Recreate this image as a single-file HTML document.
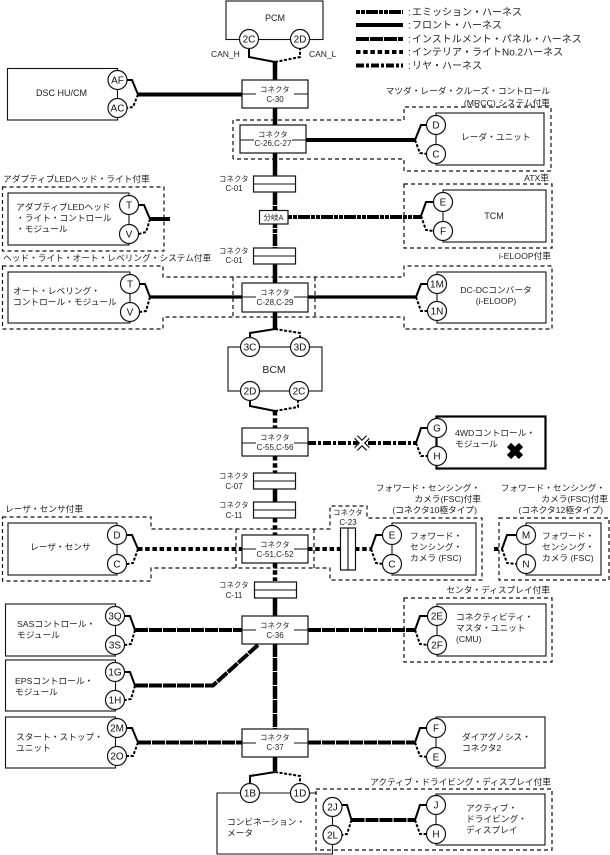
<!DOCTYPE html>
<html><head><meta charset="utf-8"><style>
html,body{margin:0;padding:0;background:#fff}
svg{display:block}
text{font-family:"Liberation Sans","Noto Sans CJK JP",sans-serif;fill:#222;font-size:8.7px}
.lg{font-size:10px}
.m{text-anchor:middle}
.e{text-anchor:end}
.c{text-anchor:middle;font-size:7.2px;letter-spacing:.3px}
.n{text-anchor:middle;font-size:8px}
.p{text-anchor:middle;font-size:10px;fill:#111}
.b{fill:none;stroke:#111;stroke-width:1.1}
.bx{fill:#fff;stroke:#111;stroke-width:1.2}
.d{fill:none;stroke:#111;stroke-width:1.2;stroke-dasharray:4 3}
.f{fill:none;stroke:#000;stroke-width:2}
.fd{fill:none;stroke:#000;stroke-width:2;stroke-dasharray:3 1.6}
.h{fill:none;stroke:#000;stroke-width:4}
.v{fill:none;stroke:#000;stroke-width:4.5}
.ip{stroke-dasharray:13 1}
.in{stroke-dasharray:4.5 2.7}
.em{stroke-dasharray:4 1 4 1 12 1}
.re{stroke-dasharray:8 2 3 2}
circle{fill:#fff;stroke:#111;stroke-width:1.2}
</style></head><body>
<svg width="610" height="855" viewBox="0 0 610 855" xmlns="http://www.w3.org/2000/svg">
<!-- dashed groups -->
<path class="d" d="M233,159V120H404V107H551V171H404V159H233"/>
<path class="d" d="M2.500,187H164V251H2.500Z"/>
<path class="d" d="M404,184H552V248H404Z"/>
<path class="d" d="M233,277V317M315,277V317"/>
<path class="d" d="M2.500,266H163V277H404V266H552V329H404V317H163V329H2.500Z"/>
<path class="d" d="M2.500,517H151V529H330V506H367V518H482V580H330V568H151V581H2.500Z"/>
<path class="d" d="M236,529V568M314,529V568"/>
<path class="d" d="M499,518H609V580H499Z"/>
<path class="d" d="M404,598H552V662H404Z"/>
<path class="d" d="M316,789H552V850H316Z"/>
<!-- module boxes -->
<rect class="b" x="226" y="1" width="97" height="38.500"/>
<rect class="b" x="7.500" y="68.500" width="110" height="51.500"/>
<rect class="b" x="436" y="113" width="108" height="52"/>
<rect class="b" x="8" y="193" width="121" height="52"/>
<rect class="b" x="443" y="190" width="103" height="52"/>
<rect class="b" x="8" y="272" width="122" height="51"/>
<rect class="b" x="437" y="272" width="109" height="51"/>
<rect class="b" x="228" y="347" width="94" height="44"/>
<rect fill="none" stroke="#000" stroke-width="2.200" x="436.500" y="416.500" width="109" height="52"/>
<rect class="b" x="8" y="523" width="109" height="52"/>
<rect class="b" x="392" y="523" width="84" height="52"/>
<rect class="b" x="526" y="523" width="75" height="52"/>
<rect class="b" x="5.500" y="604" width="110" height="52"/>
<rect class="b" x="437" y="604" width="109" height="52" stroke-width="1.400"/>
<rect class="b" x="5.500" y="660" width="110" height="51"/>
<rect class="b" x="5.500" y="717" width="110" height="51"/>
<rect class="b" x="436" y="717" width="109" height="51"/>
<path class="b" d="M317,793H217V854H332.500V807"/>
<rect class="b" x="436" y="794" width="109" height="51"/>
<!-- main vertical -->
<path class="v" d="M275,62V80M275,108V125M275,153V176"/>
<path class="v ip" d="M275,192V211"/>
<path class="v em" d="M275,224V248"/>
<path class="v" d="M275,264V283M275,312V329"/>
<path class="v in" d="M275,411V428M275,456V473"/>
<path class="v" d="M275,489V502"/>
<path class="v in" d="M275,518V535M275,563V581"/>
<path class="v" d="M275,597V616"/>
<path class="v ip" d="M275,644V729"/>
<path class="v" d="M275,757V771"/>
<!-- horizontal harnesses -->
<path class="h" d="M138,94.500H242"/>
<path class="h" d="M306,140H415"/>
<path class="h" d="M150,219H170"/>
<path class="h em" d="M288,217H421"/>
<path class="h" stroke-width="3" d="M150,297H242M308,297H416" style="stroke-width:3.200"/>
<path class="h re" d="M308,443H416"/>
<path class="h in" d="M138,549H242M308,549H340M355,549H371M494,549H502"/>
<path class="h ip" d="M135,630H242M308,630H415"/>
<path class="h ip" d="M135,685.500H213L258,645"/>
<path class="h ip" d="M138,742.500H242M308,742.500H415"/>
<path class="h ip" d="M351.500,820H415"/>
<!-- forks -->
<path class="f" d="M249,48V57L275,62"/><path class="fd" d="M275,62L300,57V48"/>
<path class="f" d="M127,80H132L138,94.500"/><path class="fd" d="M138,94.500L133,107L127,108"/>
<path class="f" d="M415,140L421,125H427"/><path class="fd" d="M415,140L420,153L427,154"/>
<path class="f" d="M139,205H144L150,219"/><path class="fd" d="M150,219L146,232L139,234"/>
<path class="f" d="M421,216L426,202H433"/><path class="fd" d="M421,216L426,230L433,231"/>
<path class="f" d="M140,284H145L150,297"/><path class="fd" d="M150,297L146,311L140,312"/>
<path class="f" d="M416,297L421,284H428"/><path class="fd" d="M416,297L421,311L428,311"/>
<path class="f" d="M275,329L250,333V338"/><path class="fd" d="M275,329L300,333V338"/>
<path class="f" d="M250,400V406L275,411"/><path class="fd" d="M275,411L298,407V400"/>
<path class="f" d="M416,443L421,428H428"/><path class="fd" d="M416,443L421,456L428,456"/>
<path class="f" d="M127,535H132L138,549"/><path class="fd" d="M138,549L133,563L127,564"/>
<path class="f" d="M371,549L376,535H383"/><path class="fd" d="M371,549L376,563L383,564"/>
<path class="f" d="M502,549L507,535H517"/><path class="fd" d="M502,549L507,563L517,564"/>
<path class="f" d="M125,616H130L135,630"/><path class="fd" d="M135,630L131,644L125,645"/>
<path class="f" d="M415,630L420,616H428"/><path class="fd" d="M415,630L420,644L428,645"/>
<path class="f" d="M125,672H130L135,685.500"/><path class="fd" d="M135,685.500L131,699L125,700"/>
<path class="f" d="M415,742.500L420,728H427"/><path class="fd" d="M415,742.500L420,756L427,757"/>
<path class="f" d="M127,728H132L138,742.500"/><path class="fd" d="M138,742.500L133,756L127,756"/>
<path class="f" d="M275,772L250,776V784"/><path class="fd" d="M275,772L300,776V784"/>
<path class="f" d="M342,805H347L351.500,820"/><path class="fd" d="M351.500,820L347,834L342,835"/>
<path class="f" d="M415,820L420,805H427"/><path class="fd" d="M415,820L420,834L427,834"/>
<path class="f" style="stroke-width:3" d="M351,820H358"/>
<!-- connector boxes -->
<rect class="bx" x="242" y="80" width="66" height="28"/><path class="b" d="M242,94H256M294,94H308"/>
<rect class="bx" x="240" y="125" width="66" height="28"/><path class="b" d="M240,140H254M292,140H306"/>
<rect class="bx" x="253.500" y="176" width="42" height="16"/><path class="b" d="M253.500,184H295.500"/>
<rect class="bx" x="259.500" y="210.500" width="28.500" height="13.500"/>
<rect class="bx" x="253.500" y="248" width="42" height="16"/><path class="b" d="M253.500,256H295.500"/>
<rect class="bx" x="242" y="283" width="66" height="29"/><path class="b" d="M242,297H256M294,297H308"/>
<rect class="bx" x="242" y="428" width="66" height="28"/><path class="b" d="M242,443H256M294,443H308"/>
<rect class="bx" x="253.500" y="473" width="42" height="16"/><path class="b" d="M253.500,481H295.500"/>
<rect class="bx" x="253.500" y="502" width="42" height="16"/><path class="b" d="M253.500,510H295.500"/>
<rect class="bx" x="242" y="535" width="66" height="28"/><path class="b" d="M242,549H256M294,549H308"/>
<rect class="bx" x="340.500" y="528" width="15" height="42"/><path class="b" d="M348,528V570"/>
<rect class="bx" x="254.500" y="582" width="42" height="16"/><path class="b" d="M254.500,590H296.500"/>
<rect class="bx" x="242" y="616" width="66" height="28"/><path class="b" d="M242,630H256M294,630H308"/>
<rect class="bx" x="242" y="729" width="66" height="28"/><path class="b" d="M242,743H256M294,743H308"/>
<!-- X marks -->
<path d="M356,437L368,449M368,437L356,449" stroke="#000" stroke-width="5" fill="none"/>
<path d="M356,437L368,449M368,437L356,449" stroke="#fff" stroke-width="2.800" fill="none"/>
<path d="M509,445L521,457M521,445L509,457" stroke="#000" stroke-width="6" fill="none"/>
<!-- circles -->
<circle cx="249" cy="39" r="9.500"/><text class="p" x="249" y="42.500">2C</text>
<circle cx="300" cy="39" r="9.500"/><text class="p" x="300" y="42.500">2D</text>
<circle cx="117.500" cy="80" r="9.500"/><text class="p" x="117.500" y="83.500">AF</text>
<circle cx="117.500" cy="108" r="9.500"/><text class="p" x="117.500" y="111.500">AC</text>
<circle cx="436" cy="125" r="9.500"/><text class="p" x="436" y="128.500">D</text>
<circle cx="436" cy="154" r="9.500"/><text class="p" x="436" y="157.500">C</text>
<circle cx="129" cy="205" r="9.500"/><text class="p" x="129" y="208.500">T</text>
<circle cx="129" cy="234" r="9.500"/><text class="p" x="129" y="237.500">V</text>
<circle cx="443" cy="202" r="9.500"/><text class="p" x="443" y="205.500">E</text>
<circle cx="443" cy="231" r="9.500"/><text class="p" x="443" y="234.500">F</text>
<circle cx="130" cy="284" r="9.500"/><text class="p" x="130" y="287.500">T</text>
<circle cx="130" cy="312" r="9.500"/><text class="p" x="130" y="315.500">V</text>
<circle cx="437" cy="284" r="9.500"/><text class="p" x="437" y="287.500">1M</text>
<circle cx="437" cy="311" r="9.500"/><text class="p" x="437" y="314.500">1N</text>
<circle cx="250" cy="347" r="9.500"/><text class="p" x="250" y="350.500">3C</text>
<circle cx="300" cy="347" r="9.500"/><text class="p" x="300" y="350.500">3D</text>
<circle cx="250" cy="391" r="9.500"/><text class="p" x="250" y="394.500">2D</text>
<circle cx="299" cy="391" r="9.500"/><text class="p" x="299" y="394.500">2C</text>
<circle cx="437" cy="428" r="9.500"/><text class="p" x="437" y="431.500">G</text>
<circle cx="437" cy="456" r="9.500"/><text class="p" x="437" y="459.500">H</text>
<circle cx="117" cy="535" r="9.500"/><text class="p" x="117" y="538.500">D</text>
<circle cx="117" cy="564" r="9.500"/><text class="p" x="117" y="567.500">C</text>
<circle cx="392" cy="535" r="9.500"/><text class="p" x="392" y="538.500">E</text>
<circle cx="392" cy="564" r="9.500"/><text class="p" x="392" y="567.500">C</text>
<circle cx="526" cy="535" r="9.500"/><text class="p" x="526" y="538.500">M</text>
<circle cx="526" cy="564" r="9.500"/><text class="p" x="526" y="567.500">N</text>
<circle cx="115" cy="616" r="9.500"/><text class="p" x="115" y="619.500">3Q</text>
<circle cx="115" cy="645" r="9.500"/><text class="p" x="115" y="648.500">3S</text>
<circle cx="437" cy="616" r="9.500"/><text class="p" x="437" y="619.500">2E</text>
<circle cx="437" cy="645" r="9.500"/><text class="p" x="437" y="648.500">2F</text>
<circle cx="115" cy="672" r="9.500"/><text class="p" x="115" y="675.500">1G</text>
<circle cx="115" cy="700" r="9.500"/><text class="p" x="115" y="703.500">1H</text>
<circle cx="117" cy="728" r="9.500"/><text class="p" x="117" y="731.500">2M</text>
<circle cx="117" cy="756" r="9.500"/><text class="p" x="117" y="759.500">2O</text>
<circle cx="436" cy="728" r="9.500"/><text class="p" x="436" y="731.500">F</text>
<circle cx="436" cy="757" r="9.500"/><text class="p" x="436" y="760.500">E</text>
<circle cx="250" cy="793" r="9.500"/><text class="p" x="250" y="796.500">1B</text>
<circle cx="300" cy="793" r="9.500"/><text class="p" x="300" y="796.500">1D</text>
<circle cx="332.500" cy="807" r="9.500"/><text class="p" x="332.500" y="810.500">2J</text>
<circle cx="332.500" cy="835" r="9.500"/><text class="p" x="332.500" y="838.500">2L</text>
<circle cx="436" cy="805" r="9.500"/><text class="p" x="436" y="808.500">J</text>
<circle cx="436" cy="834" r="9.500"/><text class="p" x="436" y="837.500">H</text>
<!-- legend -->
<path class="h em" d="M356,12H403"/>
<path class="h" d="M356,25H403"/>
<path class="h ip" d="M356,39H403"/>
<path class="h in" d="M356,52H403"/>
<path class="h re" d="M356,65.500H403"/>
<text class="lg" x="408" y="15.500">:</text><text class="lg" x="412" y="15.500">エミッション・ハーネス</text>
<text class="lg" x="408" y="28.500">:</text><text class="lg" x="412" y="28.500">フロント・ハーネス</text>
<text class="lg" x="408" y="42.500">:</text><text class="lg" x="412" y="42.500">インストルメント・パネル・ハーネス</text>
<text class="lg" x="408" y="55.500">:</text><text class="lg" x="412" y="55.500">インテリア・ライトNo.2ハーネス</text>
<text class="lg" x="408" y="69">:</text><text class="lg" x="412" y="69">リヤ・ハーネス</text>
<!-- labels -->
<text class="m" x="275" y="21" style="font-size:9px">PCM</text>
<text x="211" y="57" style="font-size:8.500px">CAN_H</text>
<text x="309" y="57" style="font-size:8.500px">CAN_L</text>
<text x="36" y="96" style="font-size:9px">DSC HU/CM</text>
<text class="e" x="550" y="94">マツダ・レーダ・クルーズ・コントロール</text>
<text class="e" x="550" y="106">(MRCC) システム付車</text>
<text x="461" y="140">レーダ・ユニット</text>
<text class="e" x="549" y="181">ATX車</text>
<text class="m" x="494" y="219" style="font-size:9px">TCM</text>
<text x="3" y="182">アダプティブLEDヘッド・ライト付車</text>
<text x="16" y="210">アダプティブLEDヘッド</text>
<text x="16" y="221">・ライト・コントロール</text>
<text x="16" y="232">・モジュール</text>
<text x="3" y="261">ヘッド・ライト・オート・レベリング・システム付車</text>
<text x="13" y="294">オート・レベリング・</text>
<text x="13" y="305">コントロール・モジュール</text>
<text class="e" x="551" y="259">i-ELOOP付車</text>
<text class="m" x="496" y="293">DC-DCコンバータ</text>
<text class="m" x="496" y="304">(i-ELOOP)</text>
<text class="m" x="274" y="373" style="font-size:10.500px">BCM</text>
<text x="455" y="436">4WDコントロール・</text>
<text x="455" y="447">モジュール</text>
<text x="5" y="512">レーザ・センサ付車</text>
<text x="30" y="550">レーザ・センサ</text>
<text class="e" x="480" y="491">フォワード・センシング・</text>
<text class="e" x="481" y="502">カメラ(FSC)付車</text>
<text class="e" x="477" y="513">(コネクタ10極タイプ)</text>
<text class="e" x="605" y="491">フォワード・センシング・</text>
<text class="e" x="608" y="502">カメラ(FSC)付車</text>
<text class="e" x="603" y="513">(コネクタ12極タイプ)</text>
<text x="410" y="539">フォワード・</text>
<text x="410" y="550">センシング・</text>
<text x="410" y="561">カメラ (FSC)</text>
<text x="542" y="539">フォワード・</text>
<text x="542" y="550">センシング・</text>
<text x="542" y="561">カメラ (FSC)</text>
<text class="e" x="550" y="593">センタ・ディスプレイ付車</text>
<text x="456" y="620">コネクティビティ・</text>
<text x="456" y="631">マスタ・ユニット</text>
<text x="456" y="642">(CMU)</text>
<text x="17" y="627">SASコントロール・</text>
<text x="17" y="638">モジュール</text>
<text x="15" y="684">EPSコントロール・</text>
<text x="15" y="695">モジュール</text>
<text x="16" y="740">スタート・ストップ・</text>
<text x="16" y="751">ユニット</text>
<text x="462" y="740">ダイアグノシス・</text>
<text x="462" y="751">コネクタ2</text>
<text class="e" x="551" y="785">アクティブ・ドライビング・ディスプレイ付車</text>
<text x="466" y="811">アクティブ・</text>
<text x="466" y="822">ドライビング・</text>
<text x="466" y="833">ディスプレイ</text>
<text x="227" y="825">コンビネーション・</text>
<text x="227" y="836">メータ</text>
<!-- connector labels -->
<text class="c" x="275" y="92">コネクタ</text><text class="n" x="275" y="102">C-30</text>
<text class="c" x="273" y="137">コネクタ</text><text class="n" x="273" y="146">C-26,C-27</text>
<text class="c" x="234" y="181.500">コネクタ</text><text class="n" x="234" y="191">C-01</text>
<text class="m" x="273.500" y="220" style="font-size:7.500px">分岐A</text>
<text class="c" x="234" y="253.500">コネクタ</text><text class="n" x="234" y="263">C-01</text>
<text class="c" x="275" y="295">コネクタ</text><text class="n" x="275" y="305">C-28,C-29</text>
<text class="c" x="275" y="440">コネクタ</text><text class="n" x="275" y="450">C-55,C-56</text>
<text class="c" x="234" y="478.500">コネクタ</text><text class="n" x="234" y="489">C-07</text>
<text class="c" x="234" y="507.500">コネクタ</text><text class="n" x="234" y="518">C-11</text>
<text class="c" x="275" y="547">コネクタ</text><text class="n" x="275" y="557">C-51,C-52</text>
<text class="c" x="348" y="515">コネクタ</text><text class="n" x="348" y="525">C-23</text>
<text class="c" x="234" y="587.500">コネクタ</text><text class="n" x="234" y="598">C-11</text>
<text class="c" x="275" y="628">コネクタ</text><text class="n" x="275" y="638">C-36</text>
<text class="c" x="275" y="740">コネクタ</text><text class="n" x="275" y="750">C-37</text>
</svg>
</body></html>
